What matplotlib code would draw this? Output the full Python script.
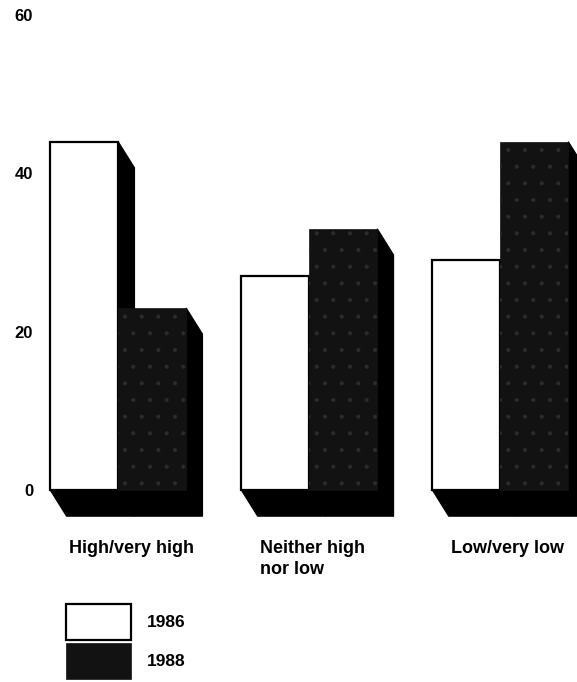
import numpy as np
import matplotlib
matplotlib.use("Agg")
import matplotlib.pyplot as plt
from matplotlib.patches import Polygon, Patch

# data
categories = ['High/very high', 'Neither high\nnor low', 'Low/very low']
years = ['1986', '1988']
vals_1986 = [44, 27, 29]
vals_1988 = [23, 33, 44]
y_ticks = [0, 20, 40, 60]

plt.rcParams['font.family'] = ['Liberation Sans', 'DejaVu Sans']
plt.rcParams['font.weight'] = 'bold'
plt.rcParams['hatch.linewidth'] = 0.5

fig = plt.figure(figsize=(5.77, 6.82), dpi=100)
# axes placed in pixel terms: x 40..577, y 5..530 (from top)
ax = fig.add_axes([40 / 577, (682 - 530) / 682, 537 / 577, 525 / 682])

bar_w = 1.0
group_gap = 2.81
dx, dy = 0.24, 3.3   # depth of the 3d effect (right and down)
x0 = np.arange(len(categories)) * group_gap
dark = '#121212'
speck = '#2c2c2c'


def side_and_floor(x, h):
    # black extrusion: right side face and floor face
    side = Polygon([(x + bar_w, h), (x + bar_w + dx, h - dy),
                    (x + bar_w + dx, -dy), (x + bar_w, 0)],
                   closed=True, facecolor='black', edgecolor='black', lw=0.8, zorder=1)
    floor = Polygon([(x, 0), (x + bar_w, 0), (x + bar_w + dx, -dy), (x + dx, -dy)],
                    closed=True, facecolor='black', edgecolor='black', lw=0.8, zorder=1)
    ax.add_patch(side)
    ax.add_patch(floor)


for i in range(len(categories)):
    xa = x0[i]
    xb = x0[i] + bar_w
    side_and_floor(xa, vals_1986[i])
    ax.bar(xa, vals_1986[i], width=bar_w, align='edge', color='white',
           edgecolor='black', linewidth=1.6, zorder=2)
    side_and_floor(xb, vals_1988[i])
    ax.bar(xb, vals_1988[i], width=bar_w, align='edge', color=dark,
           edgecolor=dark, linewidth=0.5, zorder=3)
    ax.bar(xb, vals_1988[i], width=bar_w, align='edge', color='none',
           edgecolor=speck, hatch='.', linewidth=0, zorder=4)

ax.set_xlim(-0.15, -0.15 + 537 / 68)
ax.set_ylim(-(530 - 490) / 7.93, 60 + 10 / 7.93)

ax.set_yticks(y_ticks)
ax.set_yticklabels([str(t) for t in y_ticks], fontsize=12, fontweight='bold')
ax.tick_params(axis='y', length=0, pad=5)
ax.set_xticks([])
for s in ax.spines.values():
    s.set_visible(False)

for i, cat in enumerate(categories):
    ax.text(x0[i] + 0.28, -6.3, cat, ha='left', va='top', fontsize=13,
            fontweight='bold', linespacing=1.3, clip_on=False)

handles = [Patch(facecolor='white', edgecolor='black', linewidth=1.6),
           Patch(facecolor=dark, edgecolor=dark, linewidth=0.5)]
fig.legend(handles, years, loc='upper left', bbox_to_anchor=(66 / 577, 1 - 604 / 682),
           frameon=False, handlelength=3.74, handleheight=2.8,
           handletextpad=0.92, labelspacing=0.2, borderpad=0, borderaxespad=0,
           prop={'weight': 'bold', 'size': 12.5})

plt.savefig('out.png', dpi=100)
